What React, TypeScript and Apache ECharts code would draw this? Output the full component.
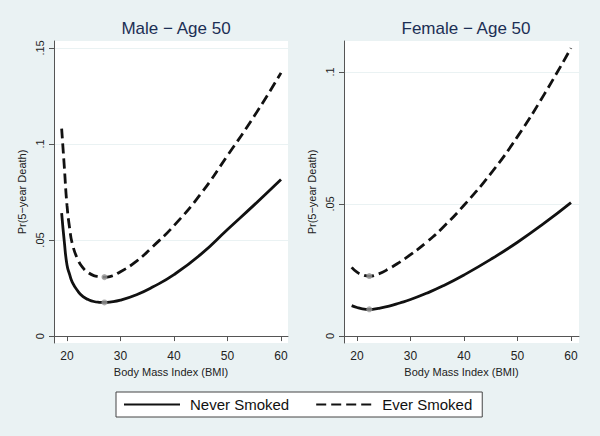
import React, { useEffect, useRef } from "react";
import * as echarts from "echarts";

const bmiMale = [19, 19.5, 20, 20.5, 21, 22, 23, 24, 25, 26, 27, 28, 30, 33, 36, 40, 45, 50, 55, 60];
const maleNever = [0.064, 0.049, 0.037, 0.032, 0.028, 0.0235, 0.0205, 0.019, 0.018, 0.0176, 0.0175, 0.0177, 0.0187, 0.0215, 0.0255, 0.032, 0.0425, 0.0555, 0.0683, 0.0815];
const maleEver = [0.108, 0.088, 0.068, 0.056, 0.048, 0.040, 0.0355, 0.033, 0.0315, 0.031, 0.0307, 0.031, 0.0335, 0.039, 0.0465, 0.0575, 0.074, 0.094, 0.1145, 0.137];

const bmiFemale = [19, 20, 21, 22.3, 24, 26, 28, 30, 33, 36, 40, 45, 50, 55, 60];
const femaleNever = [0.0115, 0.0108, 0.0103, 0.0101, 0.0105, 0.0113, 0.0125, 0.0138, 0.0162, 0.0189, 0.0231, 0.029, 0.0355, 0.0427, 0.0505];
const femaleEver = [0.026, 0.0242, 0.0232, 0.0227, 0.0235, 0.0255, 0.028, 0.0308, 0.0355, 0.041, 0.0495, 0.0615, 0.0755, 0.0915, 0.109];

const maleMinBmi = 27;
const maleMinValues = [0.0175, 0.0307];
const femaleMinBmi = 22.3;
const femaleMinValues = [0.0101, 0.0227];

const xTicks = [20, 30, 40, 50, 60];
const yTicksMale = [0, 0.05, 0.1, 0.15];
const yTicksFemale = [0, 0.05, 0.1];

const titles = ["Male \u2212 Age 50", "Female \u2212 Age 50"];
const seriesNames = ["Never Smoked", "Ever Smoked"];
const xName = "Body Mass Index (BMI)";
const yName = "Pr(5\u2212year Death)";

const FONT = "'Liberation Sans', Arial, sans-serif";
const BG = "#EAF2F3";
const AXIS = "#555";

const zip = (xs: number[], ys: number[]) => xs.map((x, i) => [x, ys[i]]);
const fmtY = (v: number) => (Math.abs(v) < 1e-9 ? "0" : String(+v.toFixed(3)).replace(/^0/, ""));

function xAxis(gridIndex: number, max: number) {
  return {
    type: "value",
    gridIndex,
    min: 17.57,
    max,
    name: xName,
    nameLocation: "middle",
    nameGap: 22,
    nameTextStyle: { fontFamily: FONT, fontSize: 11, color: "#222" },
    axisLine: { show: true, lineStyle: { color: AXIS, width: 1 } },
    axisTick: { show: true, length: 5, customValues: xTicks, lineStyle: { color: AXIS } },
    axisLabel: { customValues: xTicks, margin: 7, fontFamily: FONT, fontSize: 12, color: "#222" },
    splitLine: { show: false },
  };
}

function yAxis(gridIndex: number, min: number, max: number, ticks: number[]) {
  return {
    type: "value",
    gridIndex,
    min,
    max,
    name: yName,
    nameLocation: "middle",
    nameGap: 27,
    nameRotate: 90,
    nameTextStyle: { fontFamily: FONT, fontSize: 11, color: "#222" },
    axisLine: { show: true, lineStyle: { color: AXIS, width: 1 } },
    axisTick: { show: true, length: 5, customValues: ticks, lineStyle: { color: AXIS } },
    axisLabel: {
      customValues: ticks,
      rotate: 90,
      margin: 9,
      fontFamily: FONT,
      fontSize: 11,
      color: "#222",
      formatter: (v: number) => fmtY(v),
    },
    splitLine: { show: true, lineStyle: { color: BG, width: 1 } },
  };
}

function lineSeries(name: string, idx: number, xs: number[], ys: number[], dashed: boolean) {
  return {
    type: "line",
    name,
    xAxisIndex: idx,
    yAxisIndex: idx,
    data: zip(xs, ys),
    smooth: 0.5,
    symbol: "none",
    lineStyle: { color: "#111", width: 2.8, type: dashed ? [10, 5] : "solid" },
    itemStyle: { color: "#111" },
    z: 3,
  };
}

function markerSeries(idx: number, x: number, ys: number[]) {
  return {
    type: "scatter",
    name: "min" + idx,
    xAxisIndex: idx,
    yAxisIndex: idx,
    data: ys.map((y) => [x, y]),
    symbol: "circle",
    symbolSize: 6,
    itemStyle: { color: "#999" },
    z: 4,
  };
}

export default function App() {
  const ref = useRef<HTMLDivElement>(null);
  useEffect(() => {
    if (!ref.current) return;
    const chart = echarts.init(ref.current, undefined, { renderer: "svg" });
    chart.setOption({
      animation: false,
      backgroundColor: BG,
      title: [
        { text: titles[0], left: 171, top: 15, textAlign: "center", textStyle: { fontFamily: FONT, fontSize: 17, fontWeight: "normal", color: "#1c2f55" } },
        { text: titles[1], left: 461, top: 15, textAlign: "center", textStyle: { fontFamily: FONT, fontSize: 17, fontWeight: "normal", color: "#1c2f55" } },
      ],
      grid: [
        { left: 54, top: 41, width: 234, height: 302, show: true, backgroundColor: "#fff", borderWidth: 0 },
        { left: 344, top: 41, width: 235, height: 302, show: true, backgroundColor: "#fff", borderWidth: 0 },
      ],
      xAxis: [xAxis(0, 61.31), xAxis(1, 61.5)],
      yAxis: [yAxis(0, -0.0036, 0.1536, yTicksMale), yAxis(1, -0.00265, 0.1117, yTicksFemale)],
      legend: {
        data: seriesNames,
        left: 116,
        top: 392,
        orient: "horizontal",
        itemWidth: 56,
        itemHeight: 14,
        itemGap: 26,
        padding: [5, 10, 5, 7],
        backgroundColor: "#fff",
        borderColor: "#444",
        borderWidth: 1,
        borderRadius: 0,
        itemStyle: { opacity: 0 },
        textStyle: { fontFamily: FONT, fontSize: 15, color: "#111", padding: [0, 0, 0, 5] },
      },
      series: [
        lineSeries(seriesNames[0], 0, bmiMale, maleNever, false),
        lineSeries(seriesNames[1], 0, bmiMale, maleEver, true),
        lineSeries(seriesNames[0], 1, bmiFemale, femaleNever, false),
        lineSeries(seriesNames[1], 1, bmiFemale, femaleEver, true),
        markerSeries(0, maleMinBmi, maleMinValues),
        markerSeries(1, femaleMinBmi, femaleMinValues),
      ],
    });
    return () => chart.dispose();
  }, []);
  return <div ref={ref} style={{ width: 600, height: 436, position: "absolute", left: 0, top: 0 }} />;
}
